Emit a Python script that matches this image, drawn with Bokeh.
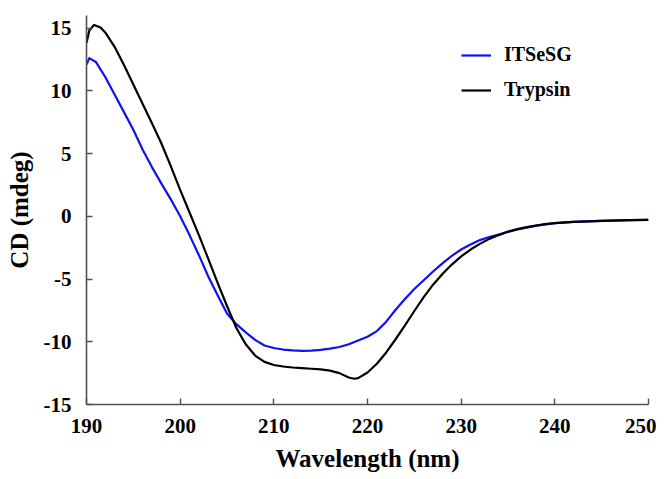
from bokeh.plotting import figure
from bokeh.models import Range1d, FixedTicker, Legend, LegendItem
from bokeh.embed import file_html
from bokeh.resources import INLINE

# ---- data ----
wl_itsesg = [190.0, 190.3, 191, 192, 193, 194, 195, 196, 197, 198, 199, 200,
             201, 202, 203, 204, 205, 206, 207, 208, 209, 210, 211, 212, 213,
             214, 215, 216, 217, 218, 219, 220, 221, 222, 223, 224, 225, 226,
             227, 228, 229, 230, 231, 232, 233, 234, 235, 236, 237, 238, 239,
             240, 242, 245, 248, 250]
cd_itsesg = [12.1, 12.6, 12.3, 11.1, 9.7, 8.3, 6.9, 5.3, 3.9, 2.6, 1.35, 0.0,
             -1.5, -3.1, -4.8, -6.3, -7.75, -8.6, -9.25, -9.85, -10.3, -10.5,
             -10.62, -10.68, -10.72, -10.7, -10.65, -10.55, -10.42, -10.2,
             -9.9, -9.6, -9.15, -8.4, -7.45, -6.6, -5.8, -5.1, -4.4, -3.75,
             -3.15, -2.65, -2.25, -1.9, -1.65, -1.45, -1.25, -1.05, -0.9,
             -0.75, -0.65, -0.55, -0.45, -0.36, -0.3, -0.28]

wl_trypsin = [190.0, 190.3, 190.8, 191.5, 192, 193, 194, 195, 196, 197, 198,
              199, 200, 201, 202, 203, 204, 205, 206, 207, 208, 209, 210, 211,
              212, 213, 214, 215, 216, 217, 218, 218.6, 219, 220, 221, 222,
              223, 224, 225, 226, 227, 228, 229, 230, 231, 232, 233, 234, 235,
              236, 237, 238, 239, 240, 242, 245, 248, 250]
cd_trypsin = [13.8, 14.8, 15.25, 15.05, 14.65, 13.5, 12.05, 10.5, 8.95, 7.4,
              5.8, 4.0, 2.1, 0.3, -1.5, -3.4, -5.3, -7.15, -8.9, -10.2, -11.1,
              -11.6, -11.85, -11.97, -12.05, -12.1, -12.15, -12.2, -12.3,
              -12.5, -12.85, -12.95, -12.9, -12.45, -11.75, -10.85, -9.8,
              -8.7, -7.55, -6.45, -5.45, -4.6, -3.85, -3.2, -2.65, -2.2, -1.8,
              -1.5, -1.22, -1.02, -0.87, -0.74, -0.63, -0.54, -0.44, -0.36,
              -0.3, -0.28]

x_ticks = [190, 200, 210, 220, 230, 240, 250]
y_ticks = [-15, -10, -5, 0, 5, 10, 15]
series_names = ["ITSeSG", "Trypsin"]
x_title = "Wavelength (nm)"
y_title = "CD (mdeg)"

FONT = "Liberation Serif"

p = figure(width=656, height=479, output_backend="svg", toolbar_location=None,
           x_range=Range1d(190, 250), y_range=Range1d(-15, 16),
           min_border_left=86, min_border_right=8, min_border_top=15,
           min_border_bottom=75)
p.outline_line_color = None
p.xgrid.visible = False
p.ygrid.visible = False
p.background_fill_color = "white"

r1 = p.line(wl_itsesg, cd_itsesg, line_color="#1010f0", line_width=2.2,
            line_join="round")
r2 = p.line(wl_trypsin, cd_trypsin, line_color="black", line_width=2.2,
            line_join="round")

p.xaxis.ticker = FixedTicker(ticks=x_ticks)
p.yaxis.ticker = FixedTicker(ticks=y_ticks)
p.yaxis.major_label_overrides = {t: str(t) for t in y_ticks}
p.xaxis.major_label_overrides = {t: str(t) for t in x_ticks}

for ax in (p.xaxis, p.yaxis):
    ax.axis_line_color = "#505050"
    ax.axis_line_width = 1.6
    ax.major_tick_line_color = "#505050"
    ax.major_tick_line_width = 1.4
    ax.major_tick_in = 6
    ax.major_tick_out = 0
    ax.minor_tick_line_color = None
    ax.major_label_text_font = FONT
    ax.major_label_text_font_style = "bold"
    ax.major_label_text_font_size = "21px"
    ax.major_label_text_color = "black"
    ax.axis_label_text_font = FONT
    ax.axis_label_text_font_style = "bold"
    ax.axis_label_text_font_size = "25px"
    ax.axis_label_text_color = "black"

p.xaxis.axis_label = x_title
p.yaxis.axis_label = y_title
p.xaxis.major_label_standoff = 14
p.xaxis.axis_label_standoff = 9
p.yaxis.major_label_standoff = 15
p.yaxis.axis_label_standoff = 8

legend = Legend(items=[LegendItem(label=series_names[0], renderers=[r1]),
                       LegendItem(label=series_names[1], renderers=[r2])],
                location=(375, 303), border_line_color=None,
                background_fill_alpha=0, glyph_width=30, glyph_height=20,
                label_height=20, spacing=12, padding=0, margin=0,
                label_standoff=13, label_text_font=FONT,
                label_text_font_style="bold", label_text_font_size="20px",
                label_text_color="black")
p.add_layout(legend)

open("out.html", "w").write(file_html(p, INLINE))
